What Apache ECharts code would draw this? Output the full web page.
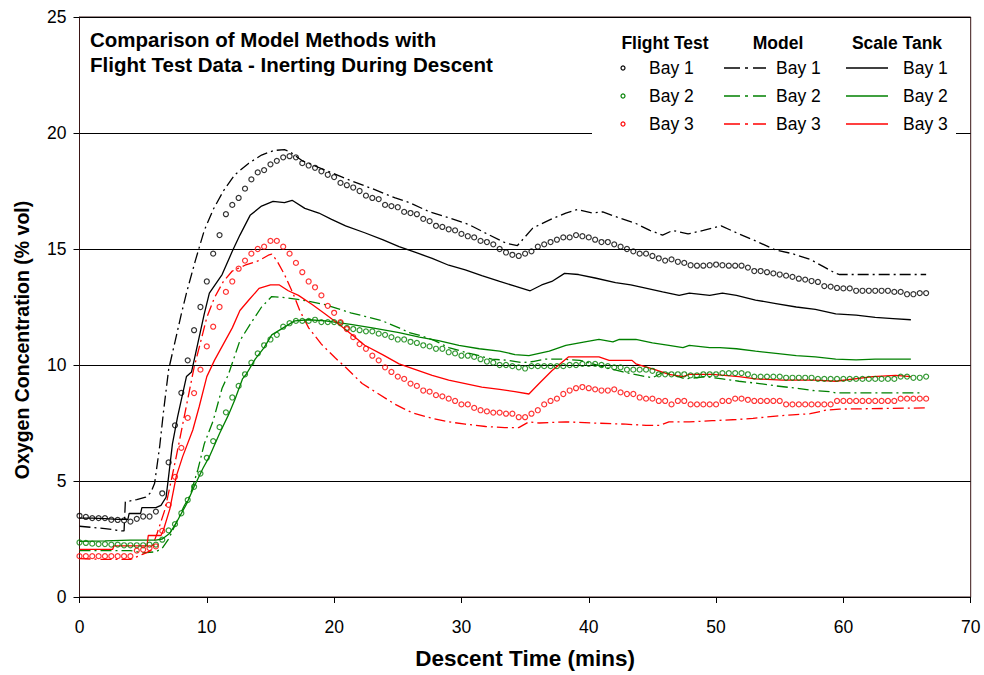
<!DOCTYPE html>
<html>
<head>
<meta charset="utf-8">
<script src="https://cdn.jsdelivr.net/npm/echarts@6/dist/echarts.min.js"></script>
<style>html,body{margin:0;padding:0;background:#fff}#c{width:984px;height:675px}</style>
</head>
<body>
<div id="c"></div>
<script>
// ---- data ----
const xTicks = [0, 10, 20, 30, 40, 50, 60, 70];
const yTicks = [0, 5, 10, 15, 20, 25];
const ftStep = 0.5; // flight test sampling interval (min)

const ftBay1 = [
  3.5,3.45,3.4,3.4,3.4,3.33,3.32,3.3,3.25,3.37,
  3.47,3.47,3.68,4.47,5.8,7.4,8.8,10.2,11.5,12.5,
  13.6,14.8,15.6,16.5,16.9,17.2,17.6,18.0,18.3,18.4,
  18.65,18.8,18.95,19.0,18.95,18.7,18.6,18.5,18.35,18.2,
  18.1,17.85,17.75,17.65,17.5,17.3,17.2,17.15,16.9,16.85,
  16.8,16.6,16.55,16.5,16.3,16.2,16.0,15.95,15.85,15.8,
  15.65,15.55,15.5,15.35,15.3,15.2,15.0,14.85,14.75,14.7,
  14.8,14.9,15.1,15.2,15.3,15.4,15.5,15.5,15.6,15.55,
  15.5,15.4,15.3,15.3,15.2,15.1,15.0,14.9,14.8,14.8,
  14.7,14.6,14.5,14.55,14.45,14.4,14.3,14.28,14.28,14.3,
  14.33,14.3,14.28,14.28,14.28,14.2,14.05,14.05,14.0,13.95,
  13.9,13.85,13.8,13.72,13.68,13.62,13.58,13.4,13.38,13.32,
  13.3,13.3,13.2,13.2,13.2,13.2,13.2,13.2,13.15,13.15,
  13.05,13.05,13.1,13.1
];
const ftBay2 = [
  2.35,2.33,2.3,2.28,2.28,2.26,2.26,2.23,2.23,2.23,
  2.23,2.26,2.26,2.47,2.87,3.14,3.61,4.18,4.75,5.32,
  6.0,6.72,7.32,7.96,8.6,9.1,9.6,10.1,10.5,10.85,
  11.1,11.3,11.65,11.8,11.9,11.9,11.9,11.95,11.85,11.85,
  11.85,11.8,11.6,11.55,11.5,11.45,11.45,11.35,11.3,11.2,
  11.1,11.1,11.0,10.95,10.85,10.8,10.7,10.7,10.55,10.5,
  10.4,10.4,10.35,10.25,10.15,10.1,10.0,10.0,9.95,9.9,
  9.85,9.95,9.95,9.95,9.95,9.95,9.95,10.0,10.0,10.05,
  10.05,10.05,10.0,9.95,9.9,9.9,9.8,9.8,9.8,9.8,
  9.75,9.6,9.6,9.6,9.6,9.6,9.55,9.55,9.6,9.6,
  9.6,9.65,9.65,9.65,9.65,9.6,9.5,9.5,9.5,9.5,
  9.5,9.45,9.45,9.45,9.45,9.45,9.4,9.4,9.4,9.4,
  9.4,9.4,9.4,9.4,9.4,9.4,9.4,9.4,9.4,9.5,
  9.5,9.45,9.45,9.5
];
const ftBay3 = [
  1.76,1.76,1.76,1.76,1.76,1.76,1.76,1.76,1.76,2.0,
  2.04,2.11,2.18,2.85,3.97,5.18,6.43,7.72,8.79,9.8,
  10.8,11.65,12.5,13.15,13.6,14.15,14.5,14.8,15.0,15.1,
  15.35,15.35,15.1,14.8,14.4,14.0,13.6,13.35,13.0,12.55,
  12.25,11.85,11.55,11.2,10.9,10.7,10.4,10.2,9.9,9.7,
  9.5,9.4,9.2,9.1,8.9,8.85,8.7,8.65,8.55,8.45,
  8.3,8.3,8.15,8.05,8.0,7.95,7.95,7.9,7.9,7.75,
  7.75,7.9,8.05,8.3,8.45,8.55,8.75,8.9,9.0,9.05,
  9.0,8.95,8.9,8.9,8.95,8.82,8.75,8.75,8.6,8.55,
  8.55,8.45,8.45,8.3,8.45,8.45,8.3,8.3,8.3,8.3,
  8.3,8.45,8.45,8.55,8.55,8.5,8.45,8.45,8.45,8.45,
  8.45,8.3,8.3,8.3,8.3,8.3,8.3,8.3,8.3,8.45,
  8.45,8.45,8.45,8.45,8.45,8.45,8.45,8.45,8.45,8.55,
  8.55,8.55,8.55,8.55
];

const modelBay1 = [[0,3.05],[1,3.0],[2,2.95],[3.3,2.85],[3.5,2.85],[3.6,4.1],[4.5,4.2],[5.2,4.3],[5.6,4.5],[5.9,4.9],[6.3,6.5],[6.6,8.0],[7.0,9.8],[7.5,11.0],[8.0,12.2],[8.4,13.1],[9.1,14.5],[9.8,15.8],[10.5,16.7],[11.3,17.5],[12.2,18.2],[13.3,18.7],[14.3,19.05],[15.3,19.25],[16.1,19.28],[16.5,19.2],[17.5,18.8],[19.3,18.4],[21.3,17.95],[23.0,17.6],[24.8,17.2],[25.9,17.0],[27.5,16.6],[29.0,16.35],[30.6,16.05],[32.2,15.6],[33.5,15.25],[34.4,15.15],[35.6,15.9],[37.1,16.3],[38.2,16.55],[39.1,16.7],[40.3,16.55],[41.1,16.6],[42.1,16.4],[43.7,16.1],[44.8,15.8],[45.8,15.6],[46.6,15.8],[47.8,15.65],[49.0,15.8],[50.4,16.0],[51.6,15.7],[53.1,15.35],[54.7,14.95],[56.0,14.8],[57.4,14.55],[58.4,14.25],[59.4,13.95],[59.7,13.9],[66.5,13.9]];
const modelBay2 = [[0,2.0],[2,2.0],[4,2.0],[5.0,1.9],[6.0,1.95],[6.5,2.1],[7.0,2.5],[7.6,3.2],[8.2,3.9],[8.7,4.4],[9.3,5.5],[9.8,6.6],[10.5,7.6],[11.2,9.0],[11.7,9.6],[12.6,11.05],[13.4,11.75],[14.3,12.5],[15.1,12.95],[15.9,12.92],[17.5,12.8],[19.3,12.6],[21.3,12.25],[22.4,12.1],[23.8,11.9],[25.1,11.6],[25.9,11.4],[26.9,11.25],[27.9,11.05],[29.0,10.75],[30.3,10.55],[31.4,10.4],[32.4,10.25],[33.7,10.2],[34.8,10.1],[35.6,10.15],[36.6,10.25],[37.9,10.25],[39.3,10.2],[40.3,10.05],[41.6,9.85],[42.7,9.7],[44.0,9.55],[45.0,9.45],[45.9,9.7],[47.6,9.4],[49.2,9.5],[50.5,9.4],[51.8,9.3],[53.4,9.2],[54.7,9.1],[56.3,9.0],[57.6,8.9],[58.9,8.85],[59.4,8.8],[66.2,8.8]];
const modelBay3 = [[0,1.65],[2,1.62],[4,1.62],[5.0,1.85],[5.6,2.0],[6.1,2.75],[6.7,3.75],[7.1,4.75],[7.6,6.05],[8.2,7.7],[8.6,8.8],[9.0,9.9],[9.4,10.75],[10.0,12.05],[10.6,12.9],[11.3,13.6],[12.0,14.05],[13.0,14.3],[14.1,14.5],[14.9,14.75],[15.1,14.78],[15.5,14.5],[16.1,13.9],[16.8,13.05],[17.3,12.35],[18.0,11.6],[19.0,10.9],[20.1,10.3],[20.9,9.9],[22.2,9.2],[23.5,8.75],[24.8,8.3],[26.1,7.95],[27.7,7.7],[29.0,7.55],[30.3,7.45],[31.9,7.35],[33.4,7.3],[34.5,7.3],[35.3,7.55],[36.1,7.5],[38.2,7.55],[40.3,7.5],[42.9,7.45],[44.5,7.4],[45.6,7.4],[46.3,7.55],[47.9,7.55],[49.7,7.6],[51.6,7.65],[52.9,7.7],[54.7,7.8],[56.0,7.85],[57.4,7.9],[58.6,8.05],[59.7,8.1],[66.5,8.15]];

const tankBay1 = [[0,3.4],[1,3.4],[2,3.38],[3,3.35],[3.8,3.35],[3.9,3.6],[4.8,3.6],[4.9,3.85],[6.0,3.85],[6.4,3.95],[6.8,4.3],[7.0,5.2],[7.3,6.6],[7.7,7.75],[8.4,9.5],[8.8,9.7],[9.1,10.45],[9.8,12.2],[10.2,13.1],[11.2,13.9],[12.0,14.9],[12.6,15.6],[13.4,16.45],[14.3,16.85],[15.2,17.05],[16.1,17.0],[16.7,17.1],[17.7,16.75],[18.8,16.55],[19.8,16.28],[20.9,16.0],[22.4,15.7],[23.8,15.4],[25.1,15.1],[26.4,14.85],[27.7,14.6],[29.0,14.3],[30.3,14.1],[31.6,13.85],[33.0,13.6],[34.2,13.4],[35.4,13.2],[36.3,13.45],[37.1,13.6],[38.1,13.95],[39.2,13.9],[40.5,13.75],[42.1,13.55],[43.3,13.45],[44.2,13.35],[45.8,13.15],[47.1,13.0],[47.9,13.1],[49.5,13.0],[50.5,13.1],[51.6,13.0],[53.1,12.8],[54.7,12.65],[56.3,12.5],[57.8,12.4],[59.4,12.2],[61.0,12.15],[62.5,12.05],[63.9,12.0],[65.3,11.95]];
const tankBay2 = [[0,2.4],[2,2.42],[4,2.45],[6.0,2.45],[6.5,2.5],[7.1,2.75],[7.6,3.2],[8.4,4.0],[9.0,4.75],[9.7,5.55],[10.2,6.05],[11.0,7.05],[11.7,7.85],[12.2,8.5],[12.8,9.4],[13.1,9.6],[13.8,10.25],[14.5,10.75],[15.1,11.3],[16.0,11.6],[16.9,11.9],[18.0,11.95],[19.3,11.9],[21.3,11.75],[23.0,11.6],[25.1,11.4],[26.7,11.2],[28.2,11.05],[29.8,10.85],[31.4,10.7],[33.0,10.6],[34.2,10.45],[35.3,10.4],[36.9,10.6],[38.2,10.85],[39.7,11.0],[40.8,11.1],[41.9,11.0],[42.4,11.1],[43.7,11.1],[45.0,10.95],[46.3,10.85],[47.4,10.75],[47.9,10.85],[49.5,10.75],[50.3,10.75],[51.6,10.7],[53.1,10.6],[54.7,10.5],[56.3,10.4],[57.8,10.35],[59.4,10.25],[61.0,10.22],[62.5,10.25],[65.3,10.25]];
const tankBay3 = [[0,2.05],[2.6,2.05],[2.7,2.2],[5.3,2.2],[5.4,2.65],[6.4,2.65],[6.6,2.9],[7.1,3.8],[7.6,5.2],[8.1,6.05],[8.9,7.2],[9.4,8.2],[10.0,9.5],[10.6,10.2],[11.3,10.9],[12.0,11.6],[12.6,12.35],[13.3,12.8],[14.1,13.3],[15.0,13.45],[15.7,13.45],[16.4,13.2],[17.2,13.0],[18.3,12.6],[19.3,12.2],[20.4,11.75],[21.4,11.3],[22.4,10.85],[23.8,10.45],[25.1,10.05],[26.4,9.8],[27.7,9.55],[29.0,9.35],[30.3,9.2],[31.6,9.05],[33.0,8.95],[34.2,8.85],[35.3,8.75],[36.1,9.2],[37.1,9.75],[38.4,10.35],[40.8,10.35],[41.6,10.2],[43.4,10.2],[43.7,10.05],[45.2,9.8],[46.3,9.6],[47.4,9.5],[47.9,9.6],[49.7,9.6],[51.8,9.5],[53.1,9.4],[55.2,9.35],[57.8,9.35],[59.4,9.3],[62.3,9.5],[64.1,9.55],[65.3,9.5]];

// ---- build ----
const FONT = '"Liberation Sans", Arial, Helvetica, sans-serif';
const BLACK = '#000000', GREEN = '#008000', RED = '#ff0000';
const DASHDOT = [11, 4, 2, 4];
function ftPairs(vals) { return vals.map((v, i) => [i * ftStep, v]); }

function ftSeries(name, vals, color) {
  return { name, type: 'scatter', data: ftPairs(vals), symbol: 'circle', symbolSize: 5,
    itemStyle: { color: 'rgba(0,0,0,0)', borderColor: color, borderWidth: 1.2 }, z: 4, silent: true };
}
function lineSeries(name, data, color, dash) {
  return { name, type: 'line', data, showSymbol: false, symbol: 'none', smooth: false,
    lineStyle: { color, width: 1.3, type: dash ? DASHDOT : 'solid' }, z: 3, silent: true };
}

const chart = echarts.init(document.getElementById('c'), null, { renderer: 'svg' });

const G = [];
// y-axis title (placed like the original, slightly below the plot centre)
G.push({ type: 'text', z: 60, x: 22, y: 340, rotation: Math.PI / 2,
  style: { text: 'Oxygen Concentration (% vol)', x: 0, y: 0, font: 'bold 19.5px ' + FONT, fill: '#000', textAlign: 'center', textVerticalAlign: 'middle', align: 'center', verticalAlign: 'middle' } });
// legend (drawn in a white box, like the original)
G.push({ type: 'rect', shape: { x: 592, y: 22, width: 364, height: 120 }, style: { fill: '#fff' }, z: 50 });
const headers = [['Flight Test', 665], ['Model', 778], ['Scale Tank', 897]];
headers.forEach(h => G.push({ type: 'text', z: 51, style: { text: h[0], x: h[1], y: 43, font: 'bold 17.5px ' + FONT, fill: '#000', textAlign: 'center', textVerticalAlign: 'middle', align: 'center', verticalAlign: 'middle' } }));
const rowY = [68, 96, 124];
const colors = [BLACK, GREEN, RED];
const labels = ['Bay 1', 'Bay 2', 'Bay 3'];
rowY.forEach((y, i) => {
  G.push({ type: 'circle', z: 51, shape: { cx: 623, cy: y, r: 2 }, style: { fill: 'none', stroke: colors[i], lineWidth: 1.2 } });
  G.push({ type: 'line', z: 51, shape: { x1: 724, y1: y, x2: 766, y2: y }, style: { stroke: colors[i], lineWidth: 1.5, lineDash: [16, 5, 3, 5] } });
  G.push({ type: 'line', z: 51, shape: { x1: 846, y1: y, x2: 888, y2: y }, style: { stroke: colors[i], lineWidth: 1.3 } });
  [649, 776, 903].forEach(x => G.push({ type: 'text', z: 51, style: { text: labels[i], x, y, font: '17.5px ' + FONT, fill: '#000', textAlign: 'left', textVerticalAlign: 'middle', align: 'left', verticalAlign: 'middle' } }));
});

chart.setOption({
  animation: false,
  backgroundColor: '#fff',
  textStyle: { fontFamily: FONT },
  title: {
    text: 'Comparison of Model Methods with\nFlight Test Data - Inerting During Descent',
    left: 85, top: 22,
    textStyle: { fontFamily: FONT, fontSize: 20.5, fontWeight: 'bold', color: '#000', lineHeight: 25 }
  },
  grid: { left: 79.5, right: 13.3, top: 17, bottom: 74, show: true, borderColor: '#3a1616', borderWidth: 1, backgroundColor: 'transparent' },
  xAxis: {
    type: 'value', min: xTicks[0], max: xTicks[xTicks.length - 1], interval: xTicks[1] - xTicks[0],
    name: 'Descent Time (mins)', nameLocation: 'middle', nameGap: 50,
    nameTextStyle: { fontFamily: FONT, fontSize: 22.5, fontWeight: 'bold', color: '#000' },
    axisLine: { show: true, lineStyle: { color: '#000', width: 1 } },
    axisTick: { show: true, inside: false, length: 6, lineStyle: { color: '#000' } },
    axisLabel: { fontFamily: FONT, fontSize: 17.5, color: '#000', margin: 21 },
    splitLine: { show: false }
  },
  yAxis: {
    type: 'value', min: yTicks[0], max: yTicks[yTicks.length - 1], interval: yTicks[1] - yTicks[0],
    axisLine: { show: true, lineStyle: { color: '#3a1616', width: 1 } },
    axisTick: { show: true, inside: false, length: 6, lineStyle: { color: '#000' } },
    axisLabel: { fontFamily: FONT, fontSize: 17.5, color: '#000', margin: 13 },
    splitLine: { show: true, lineStyle: { color: '#000', width: 1 } }
  },
  graphic: { elements: G },
  series: [
    ftSeries('Flight Test Bay 1', ftBay1, BLACK),
    ftSeries('Flight Test Bay 2', ftBay2, GREEN),
    ftSeries('Flight Test Bay 3', ftBay3, RED),
    lineSeries('Model Bay 1', modelBay1, BLACK, true),
    lineSeries('Model Bay 2', modelBay2, GREEN, true),
    lineSeries('Model Bay 3', modelBay3, RED, true),
    lineSeries('Scale Tank Bay 1', tankBay1, BLACK, false),
    lineSeries('Scale Tank Bay 2', tankBay2, GREEN, false),
    lineSeries('Scale Tank Bay 3', tankBay3, RED, false)
  ]
});
</script>
</body>
</html>
